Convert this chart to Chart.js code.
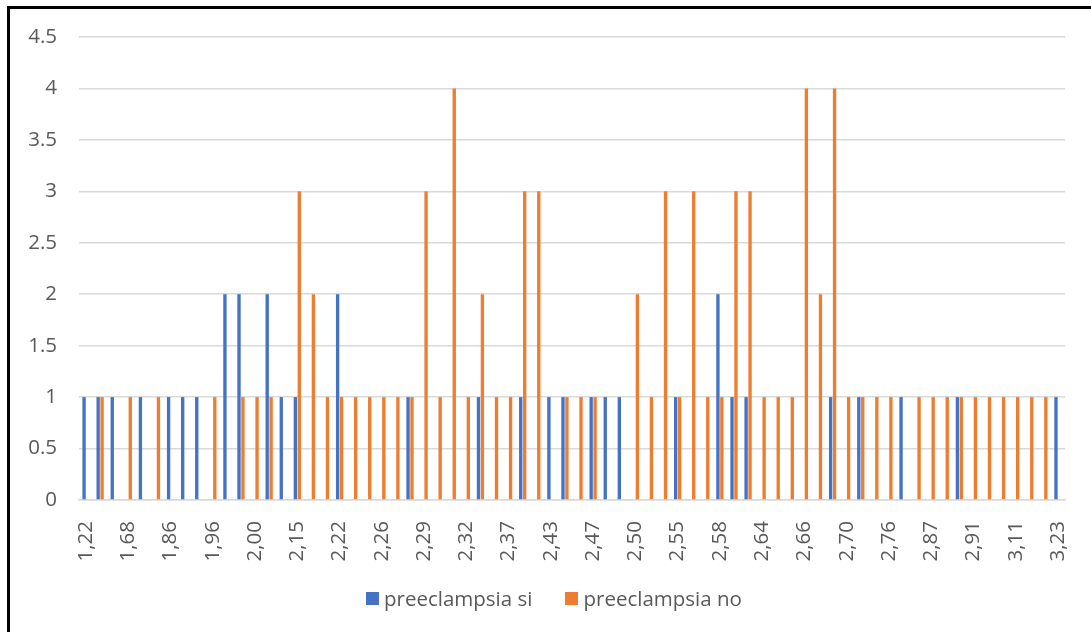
<!DOCTYPE html>
<html>
<head>
<meta charset="utf-8">
<script src="https://cdn.jsdelivr.net/npm/chart.js@4/dist/chart.umd.min.js"></script>
<style>
  html, body { margin: 0; padding: 0; background: #ffffff; }
  #wrap { position: relative; width: 1091px; height: 632px; overflow: hidden; }
  #frame { position: absolute; left: 7px; top: 6px; width: 1110px; height: 660px; border: 3px solid #000; box-sizing: border-box; }
  #c { position: absolute; left: 0; top: 0; }
  #legend { position: absolute; left: 366px; top: 585px; height: 26px; display: flex; align-items: center;
            font-family: 'Open Sans', 'Liberation Sans', sans-serif; font-size: 20.5px; color: #595959;
            white-space: nowrap; }
  #legend .item { display: flex; align-items: center; margin-right: 33px; }
  #legend .box { width: 13px; height: 13px; margin-right: 5px; }
</style>
</head>
<body>
<div id="wrap">
  <div id="frame"></div>
  <canvas id="c" width="1091" height="632"></canvas>
  <div id="legend"></div>
</div>
<script>
// Índice de pulsatilidad (categorías) y frecuencia por grupo
const categories = [
  "1,22","1,45","1,59","1,68","1,75","1,80","1,86","1,89","1,93","1,96",
  "1,97","1,98","2,00","2,05","2,10","2,15","2,17","2,20","2,22","2,23",
  "2,25","2,26","2,27","2,28","2,29","2,30","2,31","2,32","2,34","2,35",
  "2,37","2,39","2,40","2,43","2,44","2,45","2,47","2,48","2,49","2,50",
  "2,52","2,53","2,55","2,56","2,57","2,58","2,60","2,61","2,64","2,65",
  "2,65","2,66","2,67","2,68","2,70","2,72","2,74","2,76","2,80","2,84",
  "2,87","2,88","2,90","2,91","2,95","3,02","3,11","3,15","3,20","3,23"
];

const preeclampsiaSi = [
  1, 1, 1, null, 1, null, 1, 1, 1, null,
  2, 2, null, 2, 1, 1, null, null, 2, null,
  null, null, null, 1, null, null, null, null, 1, null,
  null, 1, null, 1, 1, null, 1, 1, 1, null,
  null, null, 1, null, null, 2, 1, 1, null, null,
  null, null, null, 1, null, 1, null, null, 1, null,
  null, null, 1, null, null, null, null, null, null, 1
];

const preeclampsiaNo = [
  null, 1, null, 1, null, 1, null, null, null, 1,
  null, 1, 1, 1, null, 3, 2, 1, 1, 1,
  1, 1, 1, 1, 3, 1, 4, 1, 2, 1,
  1, 3, 3, null, 1, 1, 1, null, null, 2,
  1, 3, 1, 3, 1, 1, 3, 3, 1, 1,
  1, 4, 2, 4, 1, 1, 1, 1, null, 1,
  1, 1, 1, 1, 1, 1, 1, 1, 1, null
];

const seriesNames = ["preeclampsia si", "preeclampsia no"];
const seriesColors = ["#4472C4", "#ED7D31"];
const labelEvery = 3;

const textColor = "#595959";
const gridColor = "#d9d9d9";
const fontFamily = "'Open Sans', 'Liberation Sans', sans-serif";
const fontSize = 20.5;

// Leyenda en HTML construida a partir de los elementos de leyenda del gráfico
const htmlLegend = {
  id: "htmlLegend",
  afterUpdate(chart) {
    const host = document.getElementById("legend");
    host.innerHTML = "";
    const items = chart.options.plugins.legend.labels.generateLabels(chart);
    items.forEach(function (item) {
      const row = document.createElement("span");
      row.className = "item";
      const box = document.createElement("span");
      box.className = "box";
      box.style.background = item.fillStyle;
      const txt = document.createElement("span");
      txt.textContent = item.text;
      row.appendChild(box);
      row.appendChild(txt);
      host.appendChild(row);
    });
  }
};

new Chart(document.getElementById("c"), {
  type: "bar",
  data: {
    labels: categories,
    datasets: [
      { label: seriesNames[0], data: preeclampsiaSi, backgroundColor: seriesColors[0], borderWidth: 0 },
      { label: seriesNames[1], data: preeclampsiaNo, backgroundColor: seriesColors[1], borderWidth: 0 }
    ]
  },
  plugins: [htmlLegend],
  options: {
    responsive: false,
    animation: false,
    devicePixelRatio: 1,
    datasets: { bar: { categoryPercentage: 0.56, barPercentage: 0.85 } },
    layout: { padding: { top: 37, left: 0, right: 26, bottom: 54 } },
    plugins: {
      tooltip: { enabled: false },
      legend: { display: false }
    },
    scales: {
      x: {
        grid: { display: false },
        border: { display: true, color: gridColor, width: 1.5 },
        ticks: {
          autoSkip: false,
          maxRotation: 90,
          minRotation: 90,
          padding: 13,
          color: textColor,
          font: { family: fontFamily, size: fontSize },
          callback: function (v, i) { return i % labelEvery === 0 ? categories[i] : ""; }
        },
        afterFit: function (scale) {
          scale.height = 78;
          scale.paddingLeft = 0;
          scale.paddingRight = 0;
        }
      },
      y: {
        min: 0,
        max: 4.5,
        border: { display: false },
        grid: { color: gridColor, lineWidth: 1.5, drawTicks: false },
        ticks: {
          stepSize: 0.5,
          padding: 22,
          color: textColor,
          font: { family: fontFamily, size: fontSize },
          callback: function (v) { return String(v); }
        },
        afterFit: function (scale) {
          scale.width = 79;
          scale.paddingTop = 0;
          scale.paddingBottom = 0;
        }
      }
    }
  }
});
</script>
</body>
</html>
